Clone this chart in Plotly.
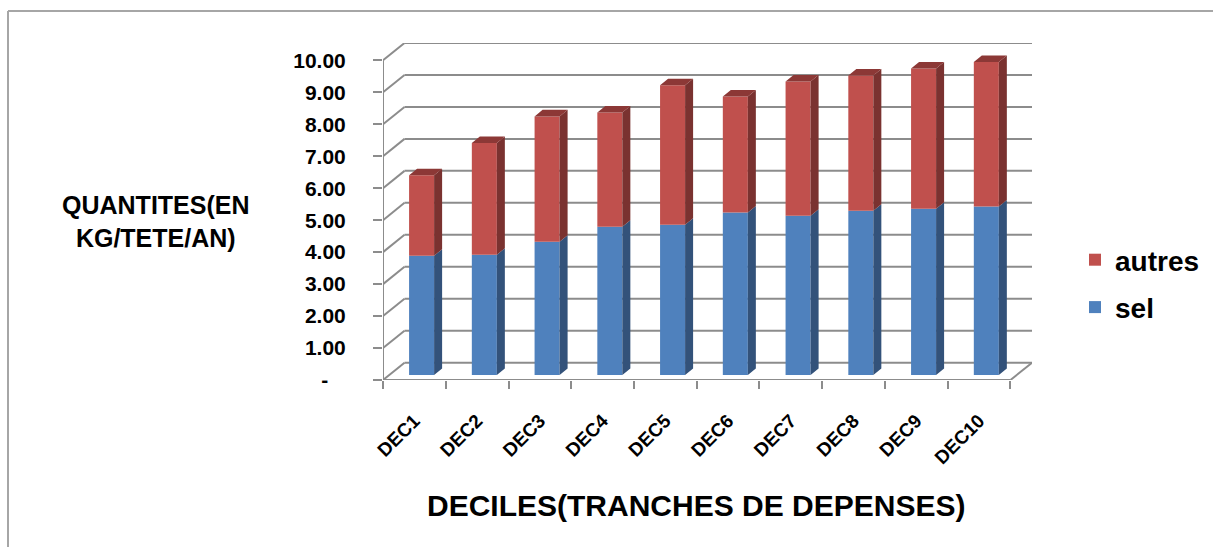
import plotly.graph_objects as go

deciles = ["DEC1", "DEC2", "DEC3", "DEC4", "DEC5", "DEC6", "DEC7", "DEC8", "DEC9", "DEC10"]
sel = [3.73, 3.76, 4.17, 4.64, 4.70, 5.08, 4.98, 5.14, 5.20, 5.27]
totals = [6.25, 7.26, 8.09, 8.21, 9.06, 8.71, 9.18, 9.37, 9.59, 9.79]
autres = [round(t - s, 2) for t, s in zip(totals, sel)]
y_ticks = [0, 1, 2, 3, 4, 5, 6, 7, 8, 9, 10]
y_labels = ["-\u00a0\u00a0\u00a0", "1.00", "2.00", "3.00", "4.00", "5.00", "6.00", "7.00", "8.00", "9.00", "10.00"]

W, H = 1213, 547
# pixel frame of the fake 3D box
LEFT, RIGHT, TOP, BOTTOM = 383, 1032, 43, 380
PX_X = 62.7  # px per category
PX_Y = 31.9  # px per unit
WALL_DX = 21.5 / PX_X
WALL_DY = 17.3 / PX_Y

BAR_W = 25 / PX_X
BAR_SHIFT = 0.115
BAR_FLOOR = 5 / PX_Y
SIDE_DX = 8 / PX_X
SIDE_DY = 6.5 / PX_Y

GRID = "#8c8c8c"
FONT = "Liberation Sans"


def px_x(p):
    return (p - LEFT) / (RIGHT - LEFT)


def px_y(p):
    return (BOTTOM - p) / (BOTTOM - TOP)


def line(x0, y0, x1, y1, width=2):
    return dict(type="line", x0=x0, y0=y0, x1=x1, y1=y1, layer="below",
                line=dict(color=GRID, width=width))


positions = [i + 0.5 + BAR_SHIFT for i in range(len(deciles))]

fig = go.Figure()
fig.add_bar(x=positions, y=sel, base=BAR_FLOOR, width=BAR_W, name="sel", legendrank=2,
            legendgroup="sel", marker=dict(color="#4F81BD", line_width=0))
fig.add_bar(x=positions, y=autres, base=[BAR_FLOOR + s for s in sel], width=BAR_W, name="autres",
            legendrank=1, legendgroup="autres", marker=dict(color="#C0504D", line_width=0))


def faces(color, lows, highs, top=False):
    xs, ys = [], []
    for p, lo, hi in zip(positions, lows, highs):
        xl, xr = p - BAR_W / 2, p + BAR_W / 2
        if top:
            xs += [xl, xl + SIDE_DX, xr + SIDE_DX, xr, xl, None]
            ys += [hi, hi + SIDE_DY, hi + SIDE_DY, hi, hi, None]
        else:
            xs += [xr, xr + SIDE_DX, xr + SIDE_DX, xr, xr, None]
            ys += [lo, lo + SIDE_DY, hi + SIDE_DY, hi, lo, None]
    fig.add_scatter(x=xs, y=ys, mode="lines", fill="toself", fillcolor=color,
                    line=dict(width=0), showlegend=False, hoverinfo="skip")


sel_top = [BAR_FLOOR + s for s in sel]
all_top = [BAR_FLOOR + t for t in totals]
faces("#33527A", [BAR_FLOOR] * len(sel), sel_top)
faces("#7A3230", sel_top, all_top)
faces("#8C3836", sel_top, all_top, top=True)

# walls and floor
shapes = []
for v in y_ticks:
    shapes.append(line(0, v, WALL_DX, v + WALL_DY))
    shapes.append(line(WALL_DX, v + WALL_DY, 10 + WALL_DX, v + WALL_DY))
shapes.append(line(0, 0, 0, 10))
shapes.append(line(0, 0, 10, 0))
shapes.append(line(10, 0, 10 + WALL_DX, WALL_DY))

# picture frame, only top and left are visible
for x0, y0, x1, y1 in [(8, 11, W, 11), (8, 11, 8, H)]:
    shapes.append(dict(type="line", xref="paper", yref="paper", x0=px_x(x0), y0=px_y(y0),
                       x1=px_x(x1), y1=px_y(y1), line=dict(color="#a6a6a6", width=2)))

fig.update_layout(
    width=W, height=H,
    margin=dict(l=LEFT, r=W - RIGHT, t=TOP, b=H - BOTTOM, autoexpand=False),
    paper_bgcolor="white", plot_bgcolor="white",
    barmode="overlay",
    font=dict(family=FONT, color="black"),
    shapes=shapes,
    xaxis=dict(range=[0, 10 + WALL_DX], tickvals=[i + 0.5 for i in range(10)], ticktext=deciles,
               tickangle=-45, ticks="", showgrid=False, zeroline=False, showline=False,
               tickfont=dict(size=19, weight=700), ticklabelstandoff=25,
               minor=dict(tickvals=list(range(11)), ticks="outside", ticklen=8,
                          tickcolor=GRID, tickwidth=2, showgrid=False)),
    yaxis=dict(range=[0, 10 + WALL_DY], tickvals=y_ticks, ticktext=y_labels, ticks="outside",
               ticklen=9, tickcolor=GRID, tickwidth=2, showgrid=False, zeroline=False,
               showline=False, tickfont=dict(size=21, weight=700), ticklabelstandoff=23),
    legend=dict(x=px_x(1075), y=px_y(235), xanchor="left", yanchor="top",
                tracegroupgap=8, itemclick=False, font=dict(size=28, weight=700)),
    annotations=[
        dict(text="QUANTITES(EN<br>KG/TETE/AN)", xref="paper", yref="paper", x=px_x(156), y=px_y(221),
             xanchor="center", yanchor="middle", showarrow=False, align="center",
             font=dict(size=25, weight=700)),
        dict(text="DECILES(TRANCHES DE DEPENSES)", xref="paper", yref="paper", x=px_x(696), y=px_y(505),
             xanchor="center", yanchor="middle", showarrow=False, font=dict(size=30, weight=700)),
    ],
)

fig.write_html("out.html", config=dict(displayModeBar=False), post_script="document.body.style.margin='0';")
